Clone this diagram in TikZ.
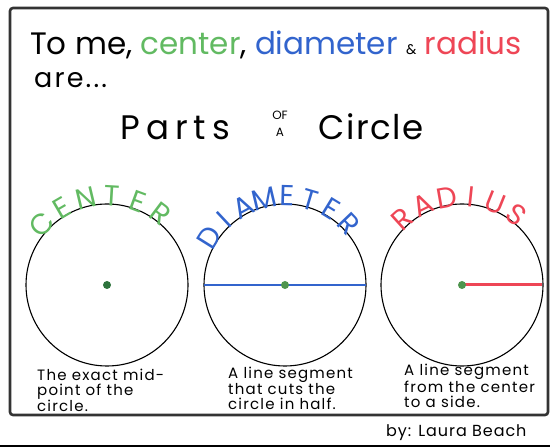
\documentclass[tikz,border=0pt]{standalone}
\usepackage{fontspec}
\setmainfont{Poppins}
\usepackage{tikz}
\usetikzlibrary{positioning}
\definecolor{centergreen}{RGB}{98, 186, 98}
\definecolor{dotgreen}{RGB}{45, 115, 60}
\definecolor{diamblue}{RGB}{50, 100, 205}
\definecolor{radred}{RGB}{238, 70, 86}

\begin{document}
\begin{tikzpicture}[x=1pt, y=1pt,
    handtext/.style={inner sep=0pt, font=\fontsize{15}{15}\selectfont\addfontfeatures{LetterSpace=8}, align=left, anchor=north west},
    arcletter/.style={inner sep=0pt, font=\fontsize{29}{29}\selectfont},
    rim/.style={line width=1.1pt},
    middot/.style={circle, inner sep=0pt, minimum size=8pt}]
    \useasboundingbox (0,0) rectangle (550,447);

    % frame and bottom rule
    \draw[line width=2.6pt, rounded corners=3pt, black!80] (10,439) rectangle (548,32);
    \draw[line width=2pt] (0,1) -- (550,1);

    % heading
    \node[inner sep=0pt, anchor=base west, font=\fontsize{31}{33}\selectfont] (title) at (30,392)
        {To me, \textcolor{centergreen}{center}, \textcolor{diamblue}{diameter} {\fontsize{14}{14}\selectfont\&} \textcolor{radred}{radius}};
    \node[inner sep=0pt, anchor=base west, font=\fontsize{27}{28}\selectfont\addfontfeatures{LetterSpace=8}] (are) at (34,359) {are...};
    \node[inner sep=0pt, anchor=base west, font=\fontsize{34}{34}\selectfont\addfontfeatures{LetterSpace=18}] (parts) at (120,307) {Parts};
    \node[inner sep=0pt, align=center, font=\fontsize{12}{17}\selectfont] (ofa) at (280,323) {OF\\A};
    \node[inner sep=0pt, anchor=base west, font=\fontsize{34}{34}\selectfont\addfontfeatures{LetterSpace=5}] (circle) at (318,307) {Circle};

    % the three circles
    \coordinate (C1) at (107,162);
    \coordinate (C2) at (285,162);
    \coordinate (C3) at (462,162);
    \draw[rim] (C1) circle (81);
    \draw[rim] (C2) circle (81);
    \draw[rim] (C3) circle (81);

    % curved names
    \foreach \ch [count=\i, evaluate=\i as \ang using 137-(\i-1)*16.8] in {C,E,N,T,E,R}
        \node[arcletter, text=centergreen, rotate=\ang-90] (cen\i) at ([shift={(\ang:89)}]C1) {\ch};
    \foreach \ch [count=\i, evaluate=\i as \ang using 148-(\i-1)*14.9] in {D,I,A,M,E,T,E,R}
        \node[arcletter, text=diamblue, rotate=\ang-90] (dia\i) at ([shift={(\ang:89)}]C2) {\ch};
    \foreach \ch [count=\i, evaluate=\i as \ang using 132-(\i-1)*16] in {R,A,D,I,U,S}
        \node[arcletter, text=radred, rotate=\ang-90] (rad\i) at ([shift={(\ang:89)}]C3) {\ch};

    % center
    \node[middot, fill=dotgreen] (mid1) at (C1) {};

    % diameter
    \coordinate (dl) at ([shift={(180:81)}]C2);
    \coordinate (dr) at ([shift={(0:81)}]C2);
    \draw[diamblue, line width=2.4pt] (dl) -- (dr);
    \node[middot, fill=centergreen!80!black] (mid2) at (C2) {};

    % radius
    \coordinate (re) at ([shift={(0:80)}]C3);
    \draw[radred, line width=3pt] (C3) -- (re);
    \node[middot, fill=centergreen!80!black] (mid3) at (C3) {};

    % descriptions
    \node[handtext] (txt1) at (37,78) {The exact mid-\\point of the\\circle.};
    \node[handtext] (txt2) at (228,80) {A line segment\\that cuts the\\circle in half.};
    \node[handtext] (txt3) at (404,83) {A line segment\\from the center\\to a side.};

    \node[inner sep=0pt, anchor=base west, font=\fontsize{16}{16}\selectfont\addfontfeatures{LetterSpace=6}] (byline) at (386,10) {by: Laura Beach};
\end{tikzpicture}
\end{document}
